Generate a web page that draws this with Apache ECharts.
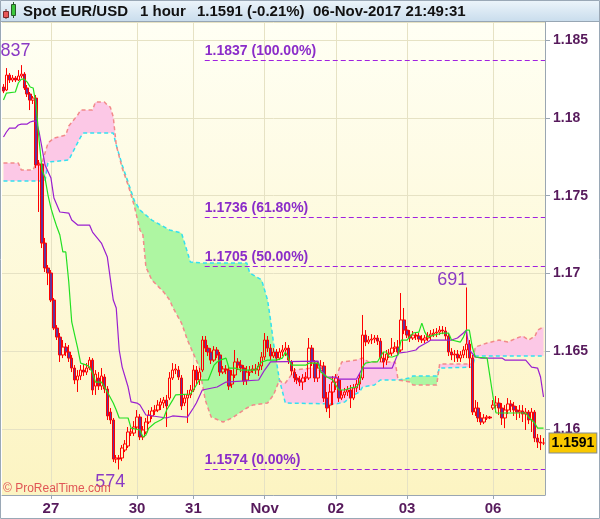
<!DOCTYPE html>
<html>
<head>
<meta charset="utf-8">
<script src="https://cdn.jsdelivr.net/npm/echarts@6/dist/echarts.min.js"></script>
<style>
  html, body { margin: 0; padding: 0; background: #fff; }
  #chart { width: 600px; height: 519px; }
</style>
</head>
<body>
<div id="chart"></div>
<script>
  const FONT = '"Liberation Sans", Arial, sans-serif'

  // day labels on the time axis (bar index -> text)
  const tickIndex = [16, 45, 64, 88, 112, 136, 165]
  const tickText = ['27', '30', '31', 'Nov', '02', '03', '06']

  // hourly bars: [open, close, low, high]
  const ohlc = [
    [1.18198,1.18172,1.18159,1.18217],[1.18179,1.18275,1.18172,1.18320],[1.18275,1.18243,1.18224,1.18288],
    [1.18243,1.18256,1.18230,1.18275],[1.18256,1.18243,1.18230,1.18269],[1.18243,1.18269,1.18237,1.18307],
    [1.18269,1.18281,1.18256,1.18339],[1.18281,1.18192,1.18179,1.18294],[1.18192,1.18153,1.18134,1.18211],
    [1.18153,1.18114,1.18050,1.18166],[1.18114,1.18127,1.18089,1.18140],[1.18127,1.17697,1.17677,1.18147],
    [1.17697,1.17703,1.17395,1.17729],[1.17703,1.17195,1.17163,1.17710],[1.17195,1.17035,1.17009,1.17228],
    [1.17035,1.17003,1.16925,1.17054],[1.17003,1.16829,1.16816,1.17022],[1.16829,1.16649,1.16636,1.16842],
    [1.16649,1.16591,1.16572,1.16668],[1.16591,1.16476,1.16431,1.16617],[1.16476,1.16527,1.16456,1.16572],
    [1.16527,1.16495,1.16469,1.16553],[1.16495,1.16456,1.16431,1.16540],[1.16456,1.16392,1.16366,1.16476],
    [1.16392,1.16315,1.16289,1.16411],[1.16315,1.16341,1.16238,1.16379],[1.16341,1.16379,1.16315,1.16411],
    [1.16379,1.16366,1.16341,1.16418],[1.16366,1.16392,1.16347,1.16424],[1.16392,1.16443,1.16379,1.16463],
    [1.16443,1.16251,1.16219,1.16456],[1.16276,1.16353,1.16219,1.16379],[1.16328,1.16276,1.16251,1.16366],
    [1.16276,1.16341,1.16251,1.16392],[1.16334,1.16257,1.16231,1.16353],[1.16257,1.16084,1.16058,1.16276],
    [1.16109,1.16058,1.16032,1.16135],[1.16058,1.15807,1.15788,1.16071],[1.15807,1.15814,1.15781,1.15833],
    [1.15814,1.15807,1.15740,1.15833],[1.15814,1.15878,1.15794,1.15897],[1.15865,1.15904,1.15852,1.15929],
    [1.15891,1.15981,1.15878,1.16013],[1.15974,1.15981,1.15955,1.16006],[1.15974,1.16013,1.15955,1.16051],
    [1.16013,1.16077,1.16000,1.16122],[1.16077,1.15949,1.15929,1.16096],[1.15949,1.15994,1.15929,1.16019],
    [1.15981,1.16045,1.15968,1.16071],[1.16045,1.16090,1.16032,1.16122],[1.16084,1.16116,1.16064,1.16141],
    [1.16116,1.16122,1.16090,1.16154],[1.16122,1.16154,1.16109,1.16186],[1.16154,1.16174,1.16122,1.16199],
    [1.16167,1.16186,1.16135,1.16206],[1.16186,1.16148,1.16013,1.16219],[1.16199,1.16328,1.16186,1.16366],
    [1.16328,1.16379,1.16315,1.16424],[1.16379,1.16386,1.16353,1.16418],[1.16379,1.16334,1.16315,1.16405],
    [1.16328,1.16148,1.16122,1.16347],[1.16167,1.16199,1.16148,1.16225],[1.16199,1.16219,1.16039,1.16251],
    [1.16219,1.16251,1.16199,1.16283],[1.16251,1.16379,1.16238,1.16411],[1.16379,1.16315,1.16289,1.16405],
    [1.16315,1.16366,1.16283,1.16392],[1.16379,1.16572,1.16366,1.16598],[1.16572,1.16520,1.16495,1.16598],
    [1.16520,1.16495,1.16469,1.16540],[1.16495,1.16443,1.16418,1.16520],[1.16443,1.16508,1.16431,1.16533],
    [1.16508,1.16476,1.16456,1.16527],[1.16476,1.16366,1.16341,1.16495],[1.16366,1.16386,1.16353,1.16405],
    [1.16386,1.16379,1.16353,1.16411],[1.16379,1.16276,1.16251,1.16398],[1.16289,1.16347,1.16264,1.16379],
    [1.16347,1.16431,1.16328,1.16508],[1.16431,1.16411,1.16379,1.16456],[1.16411,1.16392,1.16366,1.16443],
    [1.16392,1.16308,1.16283,1.16411],[1.16315,1.16366,1.16283,1.16405],[1.16366,1.16379,1.16341,1.16405],
    [1.16379,1.16386,1.16360,1.16411],[1.16386,1.16379,1.16353,1.16418],[1.16379,1.16405,1.16341,1.16431],
    [1.16405,1.16463,1.16379,1.16495],[1.16463,1.16572,1.16443,1.16617],[1.16572,1.16520,1.16495,1.16598],
    [1.16520,1.16469,1.16443,1.16546],[1.16469,1.16495,1.16456,1.16520],[1.16495,1.16456,1.16431,1.16514],
    [1.16456,1.16495,1.16443,1.16520],[1.16495,1.16508,1.16469,1.16540],[1.16508,1.16520,1.16469,1.16559],
    [1.16520,1.16443,1.16418,1.16540],[1.16431,1.16373,1.16347,1.16443],[1.16366,1.16328,1.16302,1.16392],
    [1.16328,1.16315,1.16289,1.16353],[1.16315,1.16302,1.16276,1.16341],[1.16302,1.16328,1.16251,1.16353],
    [1.16328,1.16334,1.16302,1.16366],[1.16328,1.16520,1.16315,1.16585],[1.16520,1.16431,1.16405,1.16540],
    [1.16424,1.16328,1.16302,1.16443],[1.16328,1.16392,1.16302,1.16431],[1.16392,1.16405,1.16379,1.16443],
    [1.16405,1.16199,1.16174,1.16431],[1.16199,1.16135,1.16109,1.16238],[1.16154,1.16238,1.16071,1.16289],
    [1.16238,1.16302,1.16154,1.16341],[1.16302,1.16328,1.16251,1.16353],[1.16315,1.16199,1.16174,1.16341],
    [1.16199,1.16219,1.16186,1.16251],[1.16219,1.16238,1.16199,1.16264],[1.16238,1.16251,1.16212,1.16276],
    [1.16251,1.16199,1.16135,1.16283],[1.16199,1.16264,1.16186,1.16289],[1.16264,1.16289,1.16238,1.16315],
    [1.16289,1.16328,1.16251,1.16360],[1.16328,1.16604,1.16315,1.16733],[1.16604,1.16559,1.16533,1.16636],
    [1.16559,1.16572,1.16546,1.16598],[1.16572,1.16578,1.16546,1.16610],[1.16578,1.16585,1.16553,1.16604],
    [1.16585,1.16565,1.16540,1.16604],[1.16565,1.16456,1.16431,1.16585],[1.16456,1.16431,1.16392,1.16495],
    [1.16443,1.16482,1.16411,1.16508],[1.16482,1.16488,1.16456,1.16514],[1.16488,1.16520,1.16469,1.16585],
    [1.16520,1.16527,1.16495,1.16559],[1.16527,1.16495,1.16476,1.16572],[1.16508,1.16701,1.16495,1.16874],
    [1.16701,1.16636,1.16610,1.16778],[1.16636,1.16604,1.16585,1.16662],[1.16604,1.16585,1.16559,1.16636],
    [1.16585,1.16604,1.16572,1.16630],[1.16604,1.16598,1.16572,1.16623],[1.16598,1.16578,1.16559,1.16617],
    [1.16578,1.16572,1.16553,1.16604],[1.16572,1.16585,1.16553,1.16604],[1.16585,1.16598,1.16565,1.16623],
    [1.16598,1.16610,1.16572,1.16636],[1.16610,1.16617,1.16591,1.16643],[1.16617,1.16623,1.16591,1.16649],
    [1.16623,1.16636,1.16604,1.16662],[1.16636,1.16630,1.16610,1.16662],[1.16630,1.16598,1.16572,1.16656],
    [1.16598,1.16495,1.16469,1.16617],[1.16495,1.16476,1.16443,1.16520],[1.16476,1.16482,1.16431,1.16508],
    [1.16482,1.16456,1.16431,1.16508],[1.16456,1.16476,1.16431,1.16501],[1.16476,1.16508,1.16456,1.16533],
    [1.16508,1.16546,1.16456,1.16910],[1.16546,1.16456,1.16392,1.16572],[1.16456,1.16109,1.16090,1.16476],
    [1.16109,1.16135,1.16084,1.16186],[1.16135,1.16071,1.16045,1.16174],[1.16071,1.16045,1.16026,1.16109],
    [1.16045,1.16071,1.16032,1.16096],[1.16071,1.16077,1.16058,1.16090],[1.16077,1.16071,1.16064,1.16084],
    [1.16135,1.16154,1.16122,1.16186],[1.16154,1.16167,1.16109,1.16212],[1.16167,1.16135,1.16090,1.16199],
    [1.16135,1.16071,1.16026,1.16167],[1.16071,1.16122,1.16006,1.16154],[1.16122,1.16161,1.16096,1.16199],
    [1.16161,1.16148,1.16109,1.16186],[1.16148,1.16122,1.16084,1.16174],[1.16122,1.16109,1.16058,1.16148],
    [1.16109,1.16116,1.16071,1.16154],[1.16116,1.16096,1.16045,1.16154],[1.16096,1.16109,1.15994,1.16135],
    [1.16109,1.16058,1.16032,1.16122],[1.16058,1.16109,1.15981,1.16135],[1.16109,1.15942,1.15916,1.16122],
    [1.15942,1.15916,1.15878,1.15968],[1.15916,1.15910,1.15865,1.15961],[1.15910,1.15910,1.15897,1.15942]
  ]

  // ichimoku lines, read at bar indices
  const tenkanIdx = [0,1,4,5,6,7,8,9,10,11,12,13,14,15,16,17,18,19,20,21,22,23,24,25,26,28,29,30,31,33,35,37,38,39,42,43,46,47,48,49,51,53,54,55,57,58,63,64,66,69,71,72,73,75,76,78,80,85,87,89,92,94,95,96,97,102,103,106,107,109,111,113,115,117,119,120,121,122,124,126,128,129,130,131,133,134,136,138,140,141,142,143,145,148,150,151,154,155,156,157,158,159,163,165,166,176,177,179,180,182]
  const tenkanVal = [1.18114,1.18159,1.18166,1.18224,1.18249,1.18249,1.18230,1.18198,1.18192,1.18082,1.17857,1.17665,1.17613,1.17504,1.17420,1.17356,1.17298,1.17247,1.17138,1.17138,1.16945,1.16688,1.16604,1.16520,1.16424,1.16411,1.16398,1.16360,1.16302,1.16302,1.16238,1.16167,1.16122,1.16071,1.16071,1.16006,1.15994,1.15949,1.15961,1.16006,1.16039,1.16058,1.16071,1.16122,1.16186,1.16219,1.16225,1.16251,1.16315,1.16315,1.16411,1.16431,1.16443,1.16456,1.16392,1.16392,1.16379,1.16379,1.16431,1.16443,1.16443,1.16456,1.16495,1.16456,1.16411,1.16411,1.16424,1.16424,1.16366,1.16334,1.16315,1.16251,1.16251,1.16264,1.16270,1.16296,1.16398,1.16424,1.16431,1.16431,1.16495,1.16495,1.16463,1.16463,1.16476,1.16572,1.16572,1.16617,1.16623,1.16681,1.16623,1.16591,1.16604,1.16617,1.16617,1.16572,1.16559,1.16591,1.16636,1.16636,1.16527,1.16463,1.16456,1.16206,1.16103,1.16103,1.16077,1.16039,1.16006,1.16006]

  const kijunIdx = [0,1,2,4,5,6,8,9,10,11,12,13,14,16,17,18,19,22,23,25,29,30,33,35,37,38,39,40,42,43,45,46,47,48,55,57,62,64,65,67,72,75,86,88,90,106,107,109,112,113,119,121,131,133,136,139,140,143,144,151,153,155,156,157,159,161,168,169,176,178,180,181,182]
  const kijunVal = [1.17877,1.17909,1.17934,1.17934,1.17954,1.17960,1.17960,1.17973,1.17979,1.17979,1.17909,1.17806,1.17697,1.17613,1.17485,1.17440,1.17395,1.17388,1.17343,1.17311,1.17311,1.17266,1.17195,1.17105,1.16829,1.16778,1.16508,1.16398,1.16270,1.16174,1.16167,1.16154,1.16122,1.16090,1.16071,1.16084,1.16077,1.16135,1.16167,1.16251,1.16270,1.16302,1.16315,1.16379,1.16431,1.16437,1.16379,1.16334,1.16334,1.16321,1.16321,1.16392,1.16392,1.16488,1.16495,1.16508,1.16527,1.16559,1.16572,1.16572,1.16585,1.16617,1.16636,1.16508,1.16463,1.16456,1.16456,1.16443,1.16443,1.16398,1.16392,1.16334,1.16206]

  const spanAIdx = [0,14,15,22,26,27,37,38,40,42,44,46,50,56,60,63,67,82,83,87,89,90,91,93,95,112,115,117,118,120,121,125,127,133,137,138,146,147,158,159,182]
  const spanAVal = [1.17594,1.17594,1.17716,1.17729,1.17877,1.17902,1.17902,1.17825,1.17697,1.17587,1.17472,1.17407,1.17343,1.17279,1.17260,1.17073,1.17067,1.17067,1.17003,1.16958,1.16829,1.16701,1.16553,1.16315,1.16167,1.16161,1.16174,1.16206,1.16219,1.16238,1.16270,1.16283,1.16315,1.16315,1.16328,1.16341,1.16341,1.16392,1.16398,1.16469,1.16469]

  const spanBIdx = [0,5,6,10,11,13,15,17,21,22,25,26,30,31,34,35,36,37,38,40,42,44,46,47,48,50,54,56,57,60,62,66,68,70,74,77,82,84,89,91,93,94,95,97,98,104,106,107,109,112,113,114,119,121,123,132,133,137,138,146,147,158,159,163,167,170,173,175,177,178,179,180,182]
  const spanBVal = [1.17710,1.17710,1.17665,1.17665,1.17710,1.17710,1.17838,1.17870,1.17889,1.17947,1.18018,1.18050,1.18050,1.18102,1.18102,1.18082,1.18069,1.18005,1.17825,1.17677,1.17568,1.17440,1.17279,1.17247,1.17041,1.16958,1.16880,1.16829,1.16784,1.16681,1.16572,1.16398,1.16186,1.16077,1.16045,1.16071,1.16135,1.16154,1.16167,1.16219,1.16315,1.16296,1.16296,1.16347,1.16379,1.16392,1.16392,1.16360,1.16328,1.16328,1.16379,1.16431,1.16443,1.16456,1.16431,1.16431,1.16315,1.16302,1.16283,1.16283,1.16418,1.16418,1.16527,1.16553,1.16572,1.16559,1.16585,1.16598,1.16572,1.16585,1.16591,1.16636,1.16656]

  // fibonacci retracement
  const fibLevels = [1.1837, 1.1736, 1.1705, 1.1574]
  const fibPct = ['100.00%', '61.80%', '50.00%', '0.00%']
  const fibStart = 68

  // swing labels
  const swingIdx = [0, 39, 156]
  const swingVal = [1.1837, 1.1574, 1.1691]
  const swingText = ['837', '574', '691']
  const swingOffset = [[12, -9], [-9, 13], [-14, -7]]

  const cats = ohlc.map((_, i) => {
    const k = tickIndex.indexOf(i)
    return k >= 0 ? tickText[k] : ''
  })
  const isTick = i => tickIndex.indexOf(i) >= 0
  const pairs = (idx, val) => idx.map((x, k) => [x, val[k]])
  const last = ohlc[ohlc.length - 1][1]
  const lastIdx = ohlc.length - 1

  // kumo fill between span A and span B, green when A is on top
  function cloudItem(params, api) {
    const pa = spanAIdx.map((x, k) => api.coord([x, spanAVal[k]]))
    const pb = spanBIdx.map((x, k) => api.coord([x, spanBVal[k]]))
    const yAt = (pts, x) => {
      for (let k = 1; k < pts.length; k++) {
        if (x <= pts[k][0]) {
          const t = (x - pts[k - 1][0]) / ((pts[k][0] - pts[k - 1][0]) || 1)
          return pts[k - 1][1] + t * (pts[k][1] - pts[k - 1][1])
        }
      }
      return pts[pts.length - 1][1]
    }
    const xs = Array.from(new Set(pa.concat(pb).map(p => p[0]))).sort((a, b) => a - b)
    const cols = []
    xs.forEach(x => {
      const c = [x, yAt(pa, x), yAt(pb, x)]
      const p = cols[cols.length - 1]
      if (p) {
        const d0 = p[2] - p[1], d1 = c[2] - c[1]
        if (d0 * d1 < 0) {
          const t = d0 / (d0 - d1)
          const ym = p[1] + t * (c[1] - p[1])
          cols.push([p[0] + t * (x - p[0]), ym, ym])
        }
      }
      cols.push(c)
    })
    const runs = []
    for (let k = 0; k < cols.length - 1; k++) {
      const a = cols[k], b = cols[k + 1]
      const up = (a[2] - a[1]) + (b[2] - b[1]) >= 0
      const run = runs[runs.length - 1]
      if (run && run.up === up) run.cols.push(b)
      else runs.push({ up: up, cols: [a, b] })
    }
    return {
      type: 'group',
      children: runs.map(r => ({
        type: 'polygon',
        shape: { points: r.cols.map(c => [c[0], c[1]]).concat(r.cols.slice().reverse().map(c => [c[0], c[2]])) },
        style: { fill: r.up ? '#aef6a2' : '#fcc8e6' }
      }))
    }
  }

  // fibonacci level: dashed line from the start bar to the last bar, caption above it
  function fibItem(params, api) {
    const p0 = api.coord([api.value(0), api.value(2)])
    const p1 = api.coord([api.value(1), api.value(2)])
    const y = Math.round(p0[1]) + 0.5
    const k = params.dataIndex
    return {
      type: 'group',
      children: [
        {
          type: 'line',
          shape: { x1: p0[0] - 0.5, y1: y, x2: p1[0] + 1.5, y2: y },
          style: { stroke: '#a020e0', lineWidth: 1, lineDash: [5, 3] }
        },
        {
          type: 'text',
          x: p0[0] - 0.5, y: y - 2,
          style: {
            text: fibLevels[k].toFixed(4) + ' (' + fibPct[k] + ')',
            font: 'bold 14px ' + FONT, fill: '#8b2cc9', verticalAlign: 'bottom'
          }
        }
      ]
    }
  }

  const chart = echarts.init(document.getElementById('chart'))
  chart.setOption({
    animation: false,
    backgroundColor: '#ffffff',
    grid: {
      left: 2, right: 55, top: 22, bottom: 24,
      show: true, borderWidth: 0,
      backgroundColor: {
        type: 'linear', x: 0, y: 0, x2: 0, y2: 1,
        colorStops: [{ offset: 0, color: '#fffff4' }, { offset: 1, color: '#fcf4c2' }]
      }
    },
    xAxis: {
      type: 'category',
      data: cats,
      boundaryGap: true,
      axisLine: { lineStyle: { color: '#9aa6b2' } },
      axisTick: { show: true, interval: isTick, alignWithLabel: true, length: 4, lineStyle: { color: '#9aa6b2' } },
      axisLabel: { interval: 0, color: '#571a5c', fontWeight: 'bold', fontSize: 15, fontFamily: FONT, margin: 6 },
      splitLine: { show: true, interval: isTick, alignWithLabel: true, lineStyle: { color: '#e6e2c4' } }
    },
    yAxis: {
      type: 'value',
      position: 'right',
      min: 1.15576,
      max: 1.18616,
      axisLine: { show: true, lineStyle: { color: '#9aa6b2' } },
      axisTick: { show: true, length: 5, lineStyle: { color: '#9aa6b2' } },
      axisLabel: {
        color: '#571a5c', fontWeight: 'bold', fontSize: 14, fontFamily: FONT, margin: 8,
        showMinLabel: false, showMaxLabel: false
      },
      splitLine: { show: true, lineStyle: { color: '#e6e2c4' } }
    },
    series: [
      {
        type: 'custom',
        z: 1,
        silent: true,
        data: [[0, spanAVal[0]]],
        encode: { x: 0, y: 1 },
        renderItem: cloudItem
      },
      {
        type: 'line', z: 2, silent: true, symbol: 'none',
        data: pairs(spanAIdx, spanAVal),
        lineStyle: { color: '#33e0f0', width: 1.5, type: [4, 3] }
      },
      {
        type: 'line', z: 2, silent: true, symbol: 'none',
        data: pairs(spanBIdx, spanBVal),
        lineStyle: { color: '#f28a8a', width: 1.5, type: [4, 3] }
      },
      {
        type: 'candlestick',
        z: 3,
        barWidth: 3,
        data: ohlc,
        itemStyle: {
          color: 'rgba(0,0,0,0)',
          color0: '#663399',
          borderColor: '#ff0000',
          borderColor0: '#ff0000',
          borderWidth: 1
        },
        markPoint: {
          silent: true,
          symbol: 'circle',
          symbolSize: 0,
          data: swingIdx.map((x, k) => ({
            coord: [x, swingVal[k]],
            label: {
              show: true, position: 'inside', offset: swingOffset[k],
              formatter: swingText[k],
              color: '#8a3ac4', fontSize: 18, fontFamily: FONT
            }
          }))
        }
      },
      {
        type: 'line', z: 4, silent: true, symbol: 'none',
        data: pairs(kijunIdx, kijunVal),
        lineStyle: { color: '#9a1fd0', width: 1.2 }
      },
      {
        type: 'line', z: 5, silent: true, symbol: 'none',
        data: pairs(tenkanIdx, tenkanVal),
        lineStyle: { color: '#22e022', width: 1.2 },
        markLine: {
          silent: true,
          symbol: ['none', 'none'],
          lineStyle: { color: 'rgba(0,0,0,0)', width: 0 },
          label: {
            show: true, position: 'end', distance: 6,
            formatter: last.toFixed(4),
            color: '#000', fontWeight: 'bold', fontSize: 14, fontFamily: FONT,
            backgroundColor: '#f9c800', borderColor: '#7f8a96', borderWidth: 1,
            padding: [3, 2, 2, 2]
          },
          data: [[{ coord: [lastIdx - 1, last] }, { coord: [lastIdx, last] }]]
        }
      },
      {
        type: 'custom',
        z: 6,
        silent: true,
        data: fibLevels.map(v => [fibStart, lastIdx, v]),
        encode: { x: [0, 1], y: 2 },
        renderItem: fibItem
      }
    ],
    graphic: [
      {
        type: 'rect', z: 100, silent: true,
        shape: { x: 0, y: 0, width: 600, height: 22 },
        style: {
          fill: {
            type: 'linear', x: 0, y: 0, x2: 0, y2: 1,
            colorStops: [{ offset: 0, color: '#edf5fb' }, { offset: 1, color: '#c8dcec' }]
          }
        }
      },
      { type: 'line', z: 101, silent: true, shape: { x1: 0, y1: 21.5, x2: 600, y2: 21.5 }, style: { stroke: '#97a6b4' } },
      { type: 'line', z: 101, silent: true, shape: { x1: 6, y1: 9, x2: 6, y2: 19 }, style: { stroke: '#6a3030' } },
      { type: 'rect', z: 102, silent: true, shape: { x: 3.5, y: 11.5, width: 5, height: 6 }, style: { fill: '#e85858', stroke: '#7a2a2a' } },
      { type: 'line', z: 101, silent: true, shape: { x1: 13.5, y1: 2, x2: 13.5, y2: 18 }, style: { stroke: '#2a5a2a' } },
      { type: 'rect', z: 102, silent: true, shape: { x: 11.5, y: 4.5, width: 4, height: 11 }, style: { fill: '#3cc83c', stroke: '#2a5a2a' } },
      { type: 'text', z: 102, silent: true, x: 23, y: 12, style: { text: 'Spot EUR/USD', font: 'bold 15px ' + FONT, fill: '#111', verticalAlign: 'middle' } },
      { type: 'text', z: 102, silent: true, x: 140, y: 12, style: { text: '1 hour', font: 'bold 15px ' + FONT, fill: '#111', verticalAlign: 'middle' } },
      { type: 'text', z: 102, silent: true, x: 197, y: 12, style: { text: last.toFixed(4) + ' (-0.21%)', font: 'bold 15px ' + FONT, fill: '#111', verticalAlign: 'middle' } },
      { type: 'text', z: 102, silent: true, x: 313, y: 12, style: { text: '06-Nov-2017 21:49:31', font: 'bold 15px ' + FONT, fill: '#111', verticalAlign: 'middle' } },
      { type: 'text', z: 102, silent: true, x: 3, y: 489, style: { text: '© ProRealTime.com', font: '12px ' + FONT, fill: '#e05656', verticalAlign: 'middle' } },
      { type: 'rect', z: 103, silent: true, shape: { x: 0.5, y: 0.5, width: 599, height: 518 }, style: { fill: 'none', stroke: '#9aa8b6' } }
    ]
  })
</script>
</body>
</html>
